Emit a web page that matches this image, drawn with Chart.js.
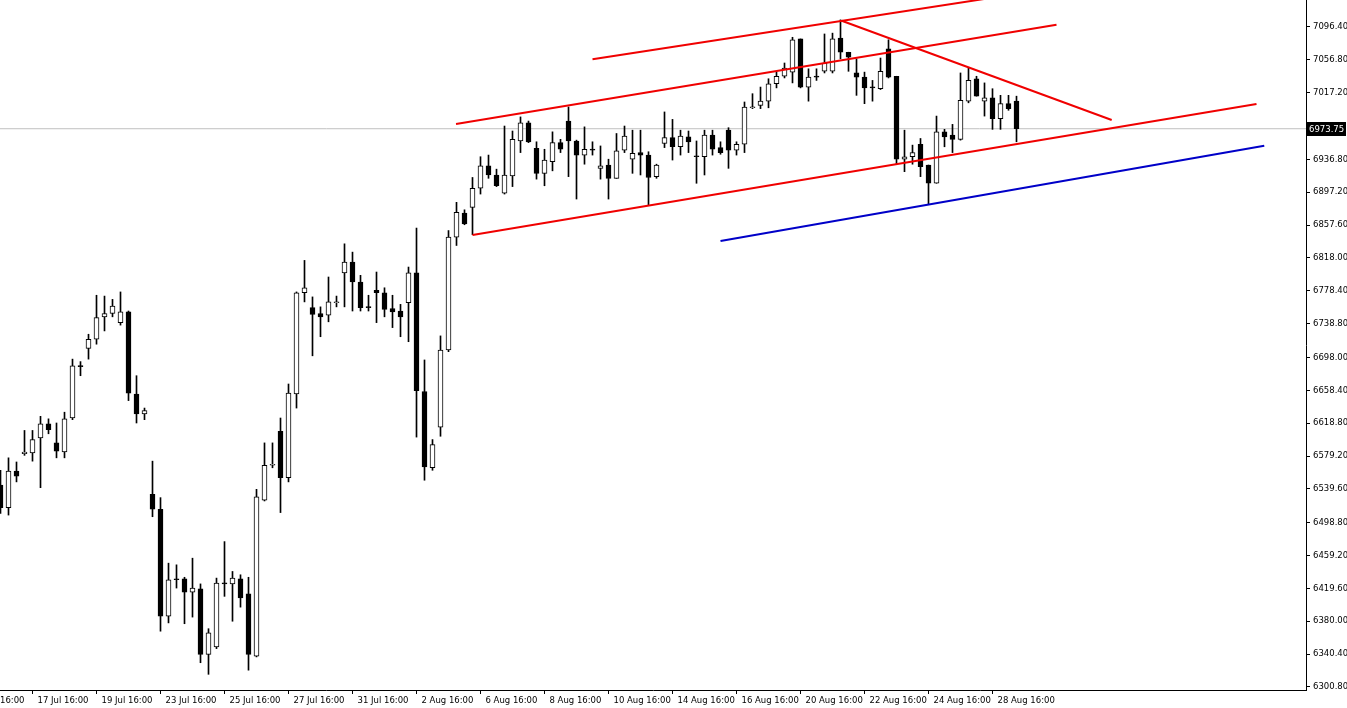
<!DOCTYPE html>
<html>
<head>
<meta charset="utf-8">
<title>Candles</title>
<script src="https://cdn.jsdelivr.net/npm/chart.js@4.4.1/dist/chart.umd.min.js"></script>
<style>
  html, body { margin: 0; padding: 0; background: #fff; }
  #wrap { width: 1347px; height: 708px; }
</style>
</head>
<body>
<div id="wrap"><canvas id="chart" width="1347" height="708"></canvas></div>
<script>
// trading days and bar hours (H6 bars)
const tradingDays = ['13 Jul', '16 Jul', '17 Jul', '18 Jul', '19 Jul', '20 Jul', '23 Jul', '24 Jul', '25 Jul', '26 Jul', '27 Jul',
  '30 Jul', '31 Jul', '1 Aug', '2 Aug', '3 Aug', '6 Aug', '7 Aug', '8 Aug', '9 Aug', '10 Aug',
  '13 Aug', '14 Aug', '15 Aug', '16 Aug', '17 Aug', '20 Aug', '21 Aug', '22 Aug', '23 Aug', '24 Aug',
  '27 Aug', '28 Aug', '29 Aug'];
const barHours = ['04:00', '10:00', '16:00', '22:00'];
const firstBar = '16 Jul 16:00';

const xTickLabels = ['13 Jul 16:00', '17 Jul 16:00', '19 Jul 16:00', '23 Jul 16:00', '25 Jul 16:00', '27 Jul 16:00',
  '31 Jul 16:00', '2 Aug 16:00', '6 Aug 16:00', '8 Aug 16:00', '10 Aug 16:00', '14 Aug 16:00',
  '16 Aug 16:00', '20 Aug 16:00', '22 Aug 16:00', '24 Aug 16:00', '28 Aug 16:00'];

const yTicks = [6300.80, 6340.40, 6380.00, 6419.60, 6459.20, 6498.80, 6539.60, 6579.20, 6618.80, 6658.40,
  6698.00, 6738.80, 6778.40, 6818.00, 6857.60, 6897.20, 6936.80, 7017.20, 7056.80, 7096.40];

// OHLC, one value per bar
const opens = [6544, 6517, 6561, 6582, 6583, 6601, 6618, 6595, 6584, 6625,
  6688, 6709, 6720, 6747, 6751, 6740, 6753, 6654, 6630, 6533,
  6515, 6386, 6430, 6431, 6415, 6419, 6340, 6349, 6425, 6425,
  6431, 6413, 6338, 6526, 6568, 6609, 6553, 6654, 6776, 6758,
  6751, 6749, 6764, 6800, 6813, 6789, 6758, 6779, 6776, 6757,
  6754, 6764, 6800, 6657, 6565, 6614, 6707, 6843, 6872, 6879,
  6902, 6929, 6918, 6896, 6917, 6959, 6981, 6950, 6920, 6934,
  6957, 6983, 6959, 6942, 6948, 6926, 6930, 6914, 6948, 6937,
  6945, 6942, 6916, 6956, 6963, 6952, 6964, 6940, 6940, 6966,
  6951, 6972, 6948, 6955, 6999, 7002, 7007, 7028, 7037, 7042,
  7082, 7024, 7036, 7043, 7043, 7083, 7066, 7041, 7036, 7023,
  7022, 7070, 7037, 6937, 6940, 6955, 6930, 6908, 6970, 6966,
  6961, 7007, 7034, 7007, 7011, 6986, 7004, 7007];
const highs = [6562, 6577, 6572, 6610, 6610, 6627, 6624, 6619, 6632, 6696,
  6693, 6726, 6773, 6772, 6768, 6777, 6754, 6676, 6637, 6573,
  6529, 6450, 6448, 6433, 6456, 6425, 6371, 6432, 6476, 6440,
  6436, 6433, 6539, 6595, 6595, 6625, 6666, 6777, 6815, 6771,
  6759, 6795, 6772, 6835, 6825, 6797, 6773, 6801, 6782, 6773,
  6762, 6807, 6854, 6695, 6599, 6724, 6851, 6885, 6876, 6915,
  6940, 6942, 6925, 6977, 6971, 6988, 6983, 6958, 6949, 6970,
  6961, 7000, 6960, 6976, 6958, 6953, 6937, 6968, 6977, 6972,
  6972, 6946, 6931, 6994, 6985, 6972, 6971, 6959, 6972, 6972,
  6958, 6975, 6958, 7006, 7016, 7024, 7034, 7042, 7053, 7084,
  7082, 7046, 7046, 7088, 7089, 7105, 7066, 7058, 7042, 7032,
  7059, 7081, 7037, 6972, 6954, 6962, 6930, 6989, 6973, 6979,
  7041, 7047, 7037, 7029, 7022, 7014, 7014, 7013];
const lows = [6510, 6508, 6548, 6580, 6573, 6541, 6606, 6577, 6577, 6623,
  6676, 6696, 6714, 6730, 6747, 6737, 6646, 6619, 6623, 6506,
  6368, 6378, 6420, 6377, 6385, 6330, 6316, 6347, 6410, 6380,
  6397, 6321, 6337, 6525, 6565, 6511, 6548, 6637, 6765, 6700,
  6723, 6741, 6759, 6759, 6754, 6754, 6754, 6740, 6747, 6734,
  6723, 6717, 6602, 6550, 6562, 6603, 6705, 6833, 6858, 6846,
  6895, 6914, 6904, 6895, 6904, 6945, 6957, 6913, 6905, 6923,
  6945, 6916, 6889, 6931, 6942, 6913, 6889, 6914, 6945, 6920,
  6918, 6882, 6914, 6951, 6936, 6942, 6945, 6908, 6918, 6942,
  6943, 6926, 6942, 6945, 6998, 6998, 6999, 7023, 7035, 7029,
  7023, 7007, 7032, 7041, 7041, 7058, 7043, 7014, 7004, 7007,
  7021, 7035, 6931, 6922, 6931, 6916, 6883, 6908, 6952, 6945,
  6960, 7005, 7013, 6989, 6973, 6973, 6996, 6958];
const closes = [6517, 6561, 6555, 6584, 6599, 6618, 6611, 6585, 6624, 6688,
  6687, 6720, 6746, 6751, 6760, 6753, 6655, 6630, 6634, 6515,
  6386, 6430, 6430, 6415, 6420, 6340, 6366, 6426, 6425, 6432,
  6408, 6340, 6530, 6568, 6569, 6553, 6655, 6776, 6782, 6750,
  6747, 6765, 6765, 6813, 6789, 6758, 6758, 6776, 6756, 6753,
  6747, 6800, 6658, 6566, 6593, 6707, 6843, 6873, 6859, 6902,
  6929, 6918, 6905, 6918, 6961, 6981, 6958, 6920, 6936, 6957,
  6949, 6959, 6942, 6949, 6948, 6929, 6914, 6947, 6965, 6944,
  6942, 6915, 6930, 6963, 6952, 6965, 6958, 6940, 6966, 6949,
  6945, 6948, 6955, 7000, 7000, 7007, 7028, 7037, 7047, 7081,
  7024, 7036, 7036, 7053, 7082, 7066, 7060, 7036, 7023, 7023,
  7043, 7036, 6937, 6940, 6945, 6928, 6908, 6970, 6964, 6961,
  7008, 7032, 7013, 7011, 6986, 7004, 6998, 6973.75];

// drawn trend lines: [bar index, price] end points
const channelTop = [[74.0, 7057.5], [123.1, 7130.4]];
const channelMid = [[56.94, 6979.5], [132.0, 7099.2]];
const channelLow = [[59.0, 6845.6], [157.0, 7003.6]];
const fallingLine = [[105.15, 7104.0], [138.9, 6984.3]];
const blueLine = [[90.0, 6838.4], [157.97, 6953.3]];

const lastPrice = 6973.75;

// build bar times
const allTimes = [];
tradingDays.forEach(d => barHours.forEach(h => allTimes.push(d + ' ' + h)));
const startIdx = allTimes.indexOf(firstBar);
const xTickPos = xTickLabels.map(t => allTimes.indexOf(t) - startIdx);

const X_MIN = -0.0625;
const X_MAX = X_MIN + 1306 / 8;
const Y_MIN = 6297.1;
const Y_MAX = 7128.95;

const bodies = opens.map((o, i) => ({ x: i, y: [o, closes[i]] }));
const wicks = lows.map((l, i) => ({ x: i, y: [l, highs[i]] }));
const toPts = arr => arr.map(p => ({ x: p[0], y: p[1] }));

function trend(pts, color, order) {
  return {
    type: 'line',
    data: toPts(pts),
    borderColor: color,
    borderWidth: 2,
    pointRadius: 0,
    fill: false,
    order: order
  };
}

const axisFont = { family: 'DejaVu Sans', size: 8.5 };

// price box on the right axis
const priceBox = {
  id: 'priceBox',
  afterDraw(chart) {
    const ctx = chart.ctx;
    const y = Math.round(chart.scales.y.getPixelForValue(lastPrice));
    const left = chart.chartArea.right + 1;
    ctx.save();
    ctx.fillStyle = '#000';
    ctx.fillRect(left, y - 7, 39, 14);
    ctx.fillStyle = '#fff';
    ctx.font = '8.5px "DejaVu Sans"';
    ctx.textBaseline = 'middle';
    ctx.fillText(lastPrice.toFixed(2), left + 2, y + 1);
    ctx.restore();
  }
};

new Chart(document.getElementById('chart'), {
  type: 'bar',
  data: {
    datasets: [
      trend(channelTop, '#f00000', 0),
      trend(channelMid, '#f00000', 0),
      trend(channelLow, '#f00000', 0),
      trend(fallingLine, '#f00000', 0),
      trend(blueLine, '#0000c8', 0),
      {
        type: 'bar',
        data: bodies,
        grouped: false,
        barThickness: 5,
        minBarLength: 1,
        backgroundColor: ctx => {
          const i = ctx.dataIndex;
          return closes[i] > opens[i] ? '#ffffff' : '#000000';
        },
        borderColor: '#000',
        borderWidth: 1,
        borderSkipped: false,
        order: 1
      },
      {
        type: 'bar',
        data: wicks,
        grouped: false,
        barThickness: 1,
        backgroundColor: '#000',
        borderWidth: 0,
        order: 2
      },
      {
        type: 'line',
        data: [{ x: X_MIN, y: lastPrice }, { x: X_MAX, y: lastPrice }],
        borderColor: '#c0c0c0',
        borderWidth: 1,
        pointRadius: 0,
        fill: false,
        order: 3
      }
    ]
  },
  options: {
    responsive: false,
    animation: false,
    events: [],
    devicePixelRatio: 1,
    layout: { padding: 0 },
    plugins: {
      legend: { display: false },
      tooltip: { enabled: false }
    },
    scales: {
      x: {
        type: 'linear',
        min: X_MIN,
        max: X_MAX,
        offset: false,
        afterBuildTicks: scale => {
          scale.ticks = xTickPos.map(v => ({ value: v }));
        },
        afterFit: scale => {
          scale.height = 18;
          scale.paddingLeft = 0;
          scale.paddingRight = 0;
        },
        ticks: {
          autoSkip: false,
          maxRotation: 0,
          align: 'start',
          labelOffset: 5,
          padding: 2,
          color: '#000',
          font: axisFont,
          callback: v => xTickLabels[xTickPos.indexOf(v)]
        },
        grid: {
          display: true,
          drawOnChartArea: false,
          offset: false,
          tickLength: 4,
          tickColor: '#000'
        },
        border: { display: true, color: '#000', width: 1 }
      },
      y: {
        type: 'linear',
        position: 'right',
        min: Y_MIN,
        max: Y_MAX,
        afterBuildTicks: scale => {
          scale.ticks = yTicks.map(v => ({ value: v }));
        },
        afterFit: scale => {
          scale.width = 41;
          scale.paddingTop = 0;
          scale.paddingBottom = 0;
        },
        ticks: {
          padding: 3,
          color: '#000',
          font: axisFont,
          callback: v => v.toFixed(2)
        },
        grid: {
          display: true,
          drawOnChartArea: false,
          tickLength: 4,
          tickColor: '#000'
        },
        border: { display: true, color: '#000', width: 1 }
      }
    }
  },
  plugins: [priceBox]
});
</script>
</body>
</html>
